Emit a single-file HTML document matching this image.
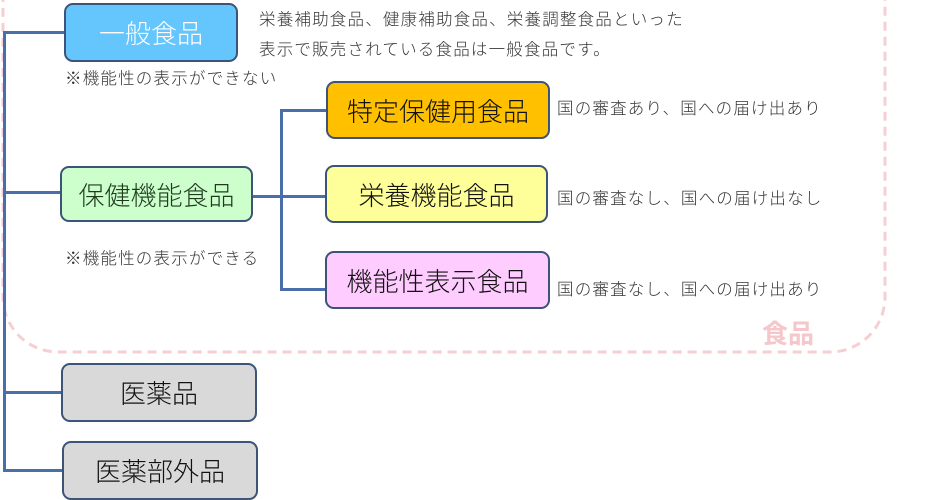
<!DOCTYPE html>
<html><head><meta charset="utf-8"><style>
html,body{margin:0;padding:0;background:#fff;}
body{width:926px;height:488px;position:relative;overflow:hidden;font-family:"Liberation Sans","Noto Sans CJK JP",sans-serif;color:#222;}
.b{position:absolute;box-sizing:border-box;border:2px solid #3b5478;border-radius:9px;display:flex;align-items:center;justify-content:center;font-size:26px;font-weight:300;color:#111;}
.l{position:absolute;background:#4a6ea9;}
.t{position:absolute;font-size:16.5px;letter-spacing:1.2px;white-space:nowrap;color:#333;font-weight:300;}
</style></head><body>
<svg style="position:absolute;left:0;top:0" width="926" height="488">
<rect x="3" y="-60" width="882" height="412" rx="55" ry="55" fill="none" stroke="#f6cfd2" stroke-width="3" stroke-dasharray="9,6"/>
</svg>
<div style="position:absolute;left:762px;top:314px;font-size:26px;font-weight:bold;color:#f5c7cb;">食品</div>
<div class="l" style="left:3px;top:31px;width:3px;height:441px;"></div>
<div class="l" style="left:3px;top:31px;width:62px;height:3px;"></div>
<div class="l" style="left:3px;top:191px;width:58px;height:3px;"></div>
<div class="l" style="left:3px;top:391px;width:58px;height:3px;"></div>
<div class="l" style="left:3px;top:469px;width:60px;height:3px;"></div>
<div class="l" style="left:252px;top:195px;width:75px;height:3px;"></div>
<div class="l" style="left:280px;top:109px;width:3px;height:182px;"></div>
<div class="l" style="left:280px;top:109px;width:47px;height:3px;"></div>
<div class="l" style="left:280px;top:288px;width:47px;height:3px;"></div>
<div class="b" style="left:64px;top:3px;width:174px;height:59px;background:#65c5fd;color:#fff;">一般食品</div>
<div class="b" style="left:60px;top:166px;width:193px;height:56px;background:#ccffcc;color:#1f3a1f;">保健機能食品</div>
<div class="b" style="left:61px;top:363px;width:196px;height:59px;background:#d9d9d9;">医薬品</div>
<div class="b" style="left:62px;top:441px;width:196px;height:59px;background:#d9d9d9;">医薬部外品</div>
<div class="b" style="left:326px;top:81px;width:224px;height:58px;background:#ffc000;">特定保健用食品</div>
<div class="b" style="left:325px;top:165px;width:223px;height:58px;background:#ffff99;">栄養機能食品</div>
<div class="b" style="left:325px;top:251px;width:225px;height:58px;background:#ffccff;">機能性表示食品</div>
<div class="t" style="left:259px;top:6px;">栄養補助食品、健康補助食品、栄養調整食品といった</div>
<div class="t" style="left:259px;top:36px;">表示で販売されている食品は一般食品です。</div>
<div class="t" style="left:65px;top:65px;">※機能性の表示ができない</div>
<div class="t" style="left:65px;top:245px;">※機能性の表示ができる</div>
<div class="t" style="left:557px;top:95px;">国の審査あり、国への届け出あり</div>
<div class="t" style="left:557px;top:185px;">国の審査なし、国への届け出なし</div>
<div class="t" style="left:557px;top:276px;">国の審査なし、国への届け出あり</div>
</body></html>
